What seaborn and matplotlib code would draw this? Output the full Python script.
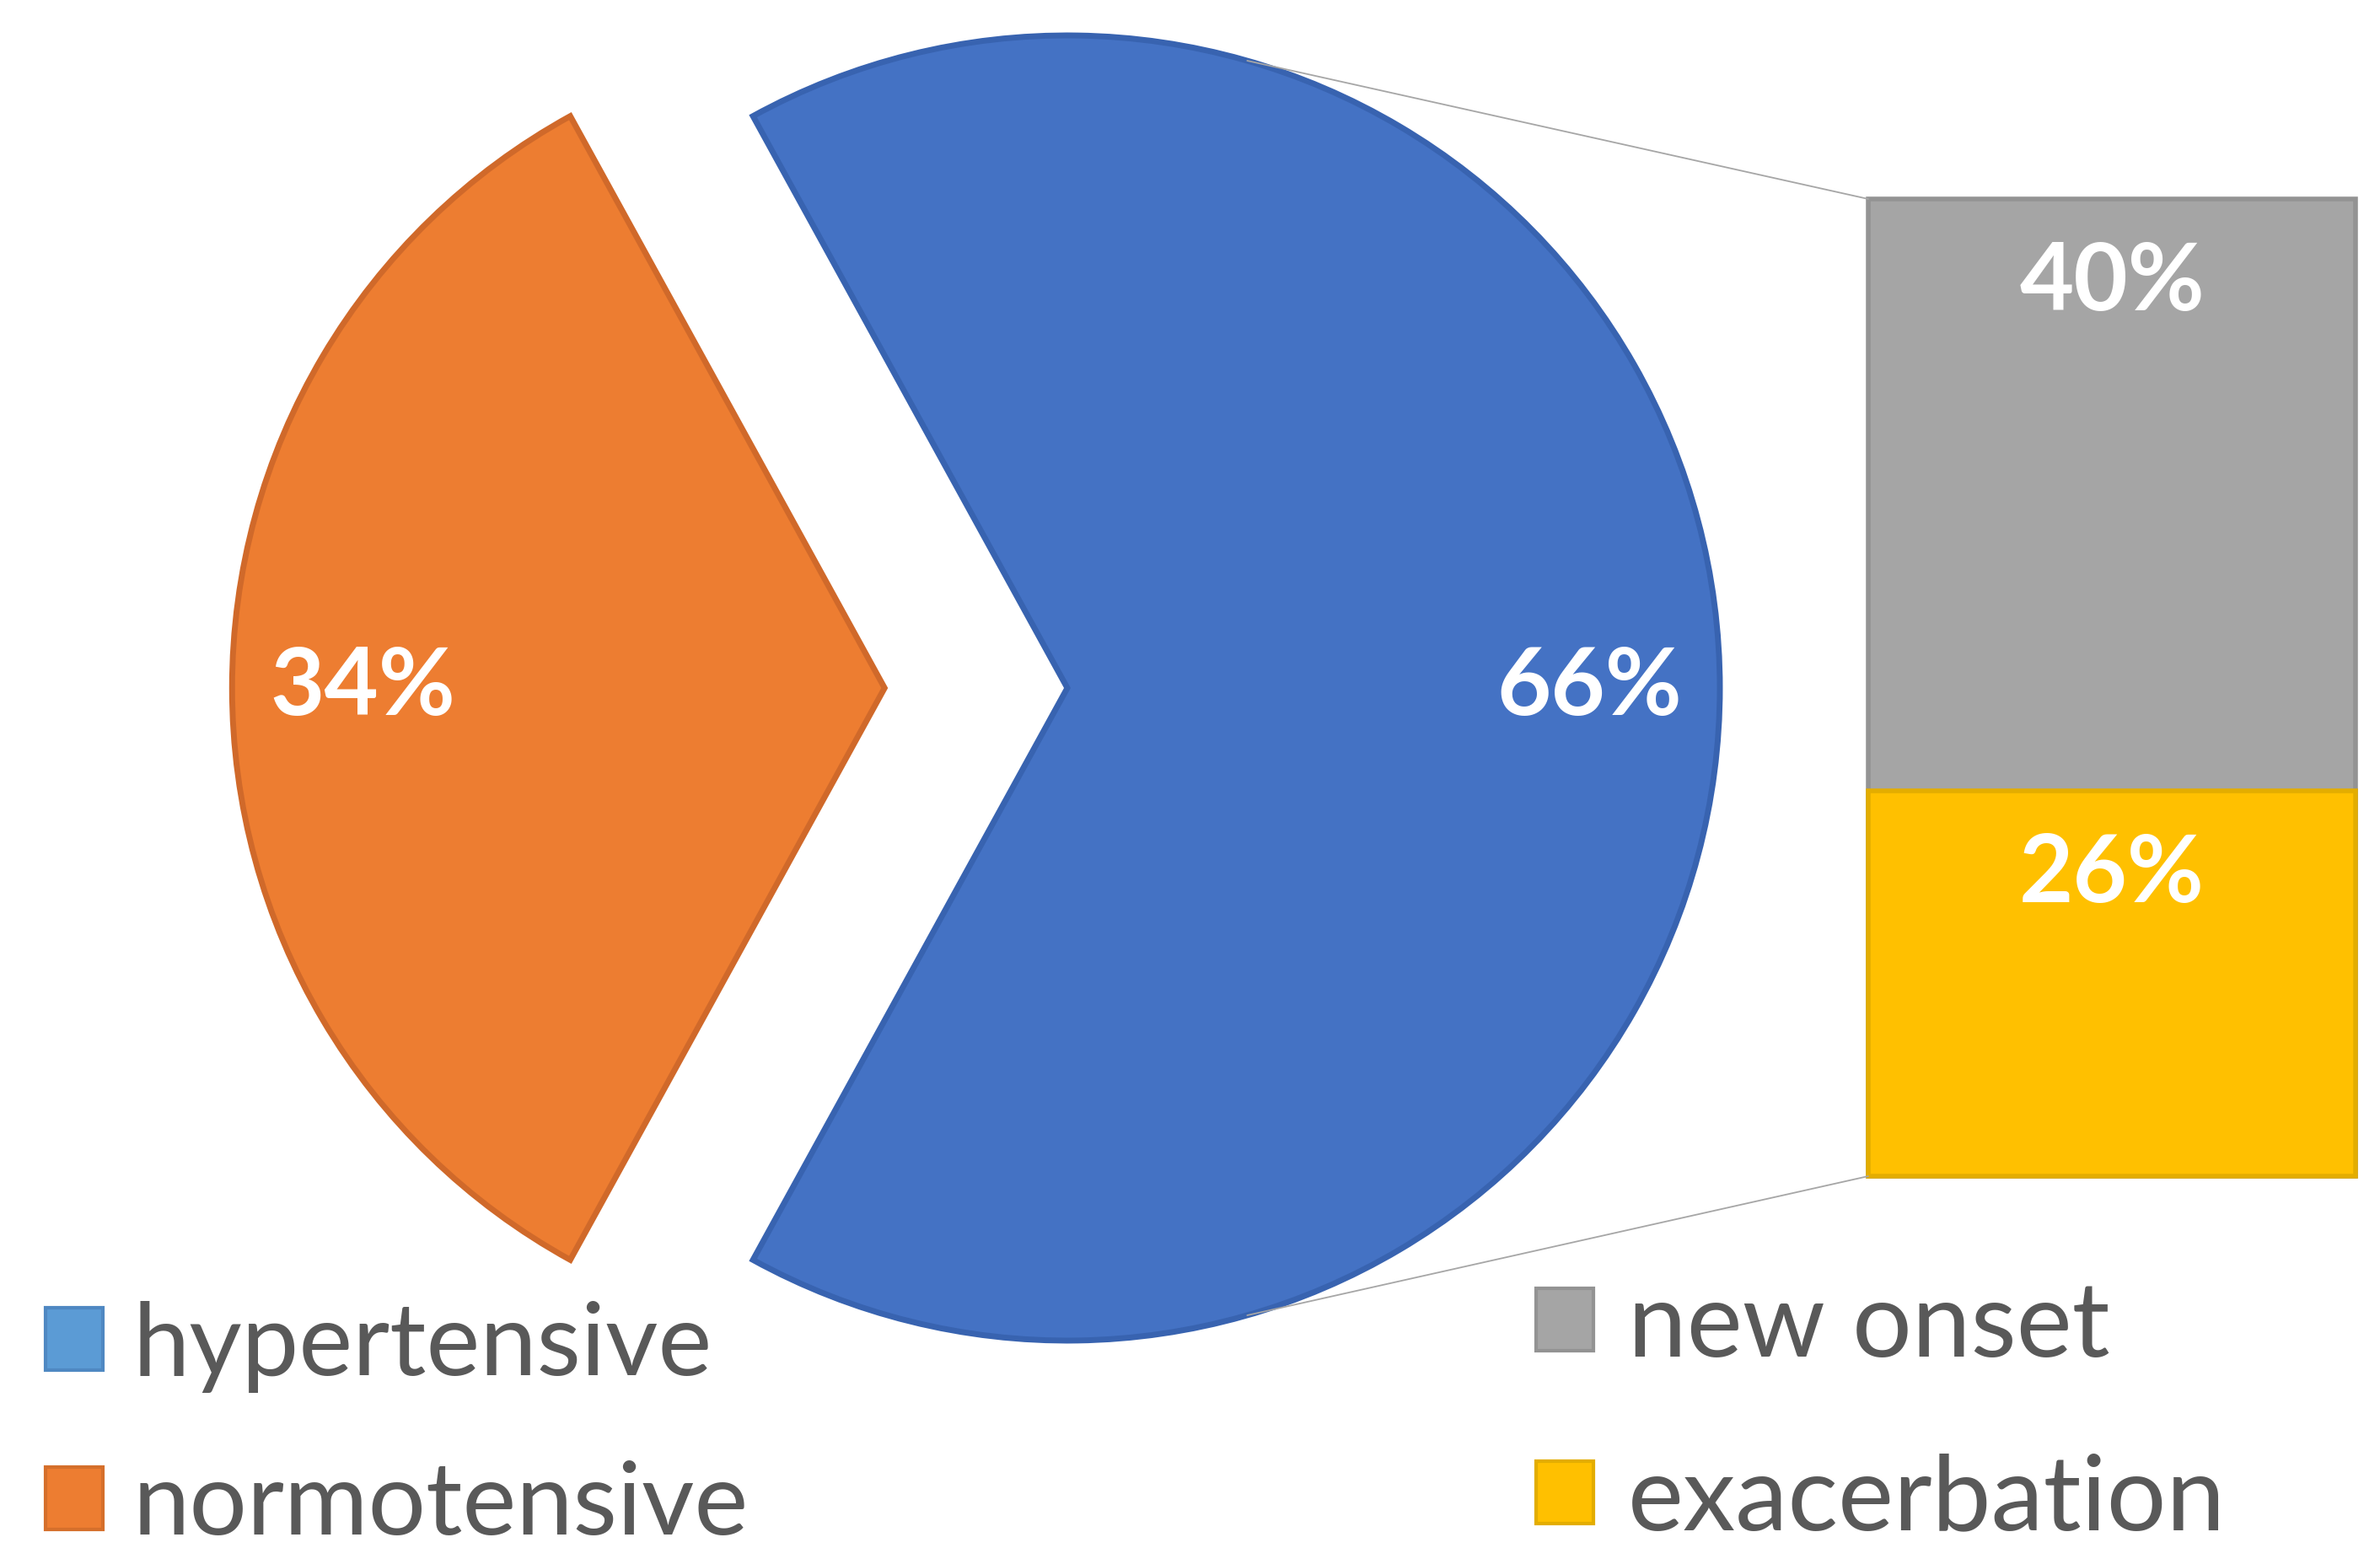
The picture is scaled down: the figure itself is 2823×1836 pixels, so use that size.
import numpy as np
import pandas as pd
import matplotlib
matplotlib.use("Agg")
import matplotlib.pyplot as plt
from matplotlib.patches import Patch, ConnectionPatch
import seaborn as sns

# ---------------- data ----------------
pie_labels = ["hypertensive", "normotensive"]
pie_values = [66, 34]
bar_labels = ["new onset", "exacerbation"]
bar_values = [40, 26]

# ---------------- styles ----------------
pie_colors = ["#4472C4", "#ED7D31"]
pie_edges = ["#3863B0", "#D0692A"]
legend_pie_colors = ["#5B9BD5", "#ED7D31"]
legend_pie_edges = ["#4F88C2", "#D56F2B"]
bar_colors = ["#A5A5A5", "#FFC000"]
bar_edges = ["#939393", "#E3AD00"]
text_gray = "#595959"

sns.set_theme(style="white")
plt.rcParams['font.family'] = ['Lato', 'DejaVu Sans']

W, H = 2823, 1836
fig = plt.figure(figsize=(W / 100, H / 100), dpi=100)

# pie axes: whole figure, unit radius = R pixels, pie centre at (cx, cy) px from top-left
cx, cy, R = 1266, 816, 774
ax = fig.add_axes([0, 0, 1, 1])
wedges, texts, autotexts = ax.pie(
    pie_values, colors=pie_colors, startangle=-pie_values[0] / 100 * 180,
    counterclock=True, explode=[0, 0.28], autopct='%1.0f%%', pctdistance=0.8,
    wedgeprops=dict(linewidth=5),
    textprops=dict(color='white', fontsize=80, fontweight='bold'))
for w, ec in zip(wedges, pie_edges):
    w.set_edgecolor(ec)
ax.set_xlim(-cx / R, (W - cx) / R)
ax.set_ylim(-(H - cy) / R, cy / R)
ax.set_axis_off()

# bar-of-pie axes
bx = fig.add_axes([2216 / W, (H - 1395) / H, (2794 - 2216) / W, (1395 - 236) / H])
tops = np.cumsum(bar_values[::-1])[::-1]   # stacked tops: new onset on top of exacerbation
df = pd.DataFrame({"segment": bar_labels, "value": bar_values, "top": tops, "stack": ["all"] * 2})
for i in range(len(df)):
    sns.barplot(data=df.iloc[[i]], x="stack", y="top", color=bar_colors[i],
                edgecolor=bar_edges[i], linewidth=4, saturation=1, width=1.0, ax=bx)
for p in bx.patches:
    p.set_clip_on(False)
bx.set_xlim(-0.5, 0.5)
bx.set_ylim(0, sum(bar_values))
bx.set_axis_off()
for i in range(len(df)):
    bx.annotate(f"{df['value'][i]}%", xy=(0, df['top'][i]), xytext=(0, -72),
                textcoords='offset points', ha='center', va='center',
                color='white', fontsize=80, fontweight='bold')

# connector lines
ang = np.deg2rad(74)
for sgn, yb in [(1, 1), (-1, 0)]:
    con = ConnectionPatch(xyA=(np.cos(ang), sgn * np.sin(ang)), coordsA=ax.transData,
                          xyB=(0, yb), coordsB=bx.transAxes, color="#A6A6A6", lw=1.3)
    fig.add_artist(con)

# legends
h1 = [Patch(facecolor=c, edgecolor=e, linewidth=3) for c, e in zip(legend_pie_colors, legend_pie_edges)]
fig.legend(h1, pie_labels, loc='upper left', bbox_to_anchor=(54 / W, 1 - 1543 / H),
           frameon=False, fontsize=87, handlelength=0.56, handleheight=0.56,
           handletextpad=0.3, labelspacing=0.66, borderpad=0, borderaxespad=0,
           labelcolor=text_gray)
h2 = [Patch(facecolor=c, edgecolor=e, linewidth=3) for c, e in zip(bar_colors, bar_edges)]
fig.legend(h2, bar_labels, loc='upper left', bbox_to_anchor=(1822 / W, 1 - 1518 / H),
           frameon=False, fontsize=90, handlelength=0.54, handleheight=0.54,
           handletextpad=0.33, labelspacing=0.745, borderpad=0, borderaxespad=0,
           labelcolor=text_gray)

fig.savefig("out.png", dpi=100, facecolor="white")
